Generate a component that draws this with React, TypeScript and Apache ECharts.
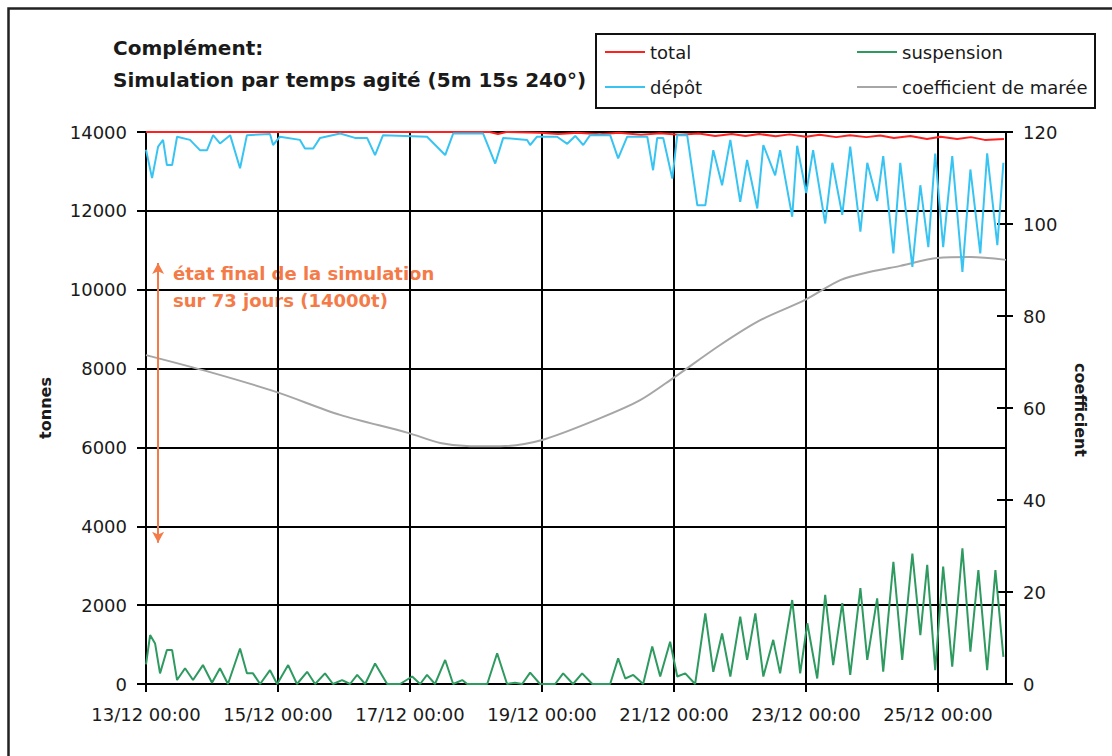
import React, { useEffect, useRef } from "react";
import * as echarts from "echarts";

// x positions are hours elapsed since 13/12 00:00
const xTickLabels = [
  "13/12 00:00",
  "15/12 00:00",
  "17/12 00:00",
  "19/12 00:00",
  "21/12 00:00",
  "23/12 00:00",
  "25/12 00:00",
];

const depotHours = [
  0, 2.2, 4.4, 6.2, 7.6, 9.5, 11.3, 16.0, 19.6, 22.2, 24.4, 26.9, 30.6, 34.2, 36.7,
  45.1, 46.2, 48.7, 56.0, 57.8, 60.8, 63.3, 70.6, 76.0, 80.4, 83.3, 86.2, 102.2,
  108.8, 111.7, 122.6, 127.0, 129.9, 138.6, 139.7, 142.2, 149.5, 153.2, 156.1,
  159.0, 161.5, 168.8, 171.7, 175.0, 182.3, 184.4, 185.9, 188.1, 191.4, 193.2,
  196.8, 200.5, 203.4, 206.3, 209.5, 212.5, 216.1, 218.6, 222.3, 224.5, 228.8,
  230.6, 235.0, 236.8, 240.1, 242.6, 247.0, 249.6, 253.2, 256.1, 259.8, 262.3,
  265.9, 268.1, 271.8, 274.3, 278.7, 281.6, 284.5, 287.0, 289.9, 293.2, 296.9,
  299.8, 303.4, 305.9, 309.6, 311.8,
];
const depotValues = [
  13550, 12830, 13630, 13800, 13160, 13160, 13880, 13800, 13540, 13540, 13920, 13710,
  13920, 13080, 13920, 13950, 13670, 13880, 13800, 13580, 13580, 13850, 13960, 13850,
  13850, 13415, 13920, 13880, 13415, 13960, 13960, 13200, 13850, 13800, 13670, 13880,
  13880, 13700, 13900, 13670, 13920, 13920, 13330, 13880, 13880, 13030, 13850, 13850,
  12820, 13920, 13920, 12140, 12140, 13540, 12650, 13800, 12230, 13290, 12060, 13670,
  12900, 13540, 11850, 13650, 12450, 13540, 11680, 13220, 11900, 13630, 11470, 13220,
  12250, 13390, 10920, 13220, 10580, 12650, 11080, 13450, 11080, 13390, 10450, 13050,
  10920, 13460, 11130, 13220,
];

const totalHours = [
  0, 125, 128, 131, 143, 150, 157, 165, 172, 180, 187, 194, 201, 207, 213, 218, 223,
  229, 234, 240, 245, 251, 256, 262, 267, 272, 278, 284, 289, 295, 300, 305, 312,
];
const totalValues = [
  14000, 14000, 13950, 14000, 13980, 13950, 13980, 13940, 13980, 13930, 13970, 13930,
  13960, 13900, 13950, 13900, 13950, 13890, 13940, 13880, 13930, 13870, 13920, 13870,
  13910, 13850, 13900, 13820, 13880, 13820, 13870, 13800, 13820,
];

const suspensionHours = [
  0, 1.5, 3.3, 5.1, 7.6, 9.5, 11.3, 14.2, 17.1, 20.7, 24.0, 26.9, 29.8, 34.2, 36.7,
  38.9, 41.5, 45.1, 47.7, 51.7, 54.9, 58.6, 61.5, 65.1, 68.0, 71.3, 74.2, 76.8, 79.7,
  83.3, 87.7, 92.4, 96.8, 99.7, 102.2, 105.1, 108.8, 111.7, 115.0, 116.8, 124.1,
  127.7, 131.3, 134.2, 136.8, 139.7, 143.3, 148.8, 151.7, 155.3, 158.6, 162.3, 168.8,
  171.7, 174.3, 177.2, 180.8, 184.1, 187.0, 190.6, 193.2, 196.1, 199.7, 203.4, 206.3,
  209.5, 212.5, 216.1, 218.6, 221.6, 224.5, 228.1, 230.6, 235.0, 237.9, 240.5, 244.1,
  247.0, 249.9, 253.2, 256.1, 259.8, 262.3, 265.9, 268.1, 271.8, 275.0, 278.7, 281.6,
  284.1, 287.0, 289.9, 293.2, 296.9, 299.8, 302.7, 305.9, 308.9, 311.8,
];
const suspensionValues = [
  500, 1240, 1030, 270, 860, 860, 100, 400, 100, 480, 30, 400, 0, 900, 270, 270, 0, 350,
  0, 480, 0, 310, 0, 270, 0, 100, 0, 230, 0, 520, 0, 0, 190, 0, 230, 0, 610, 0, 100, 0,
  0, 780, 0, 30, 0, 290, 0, 0, 270, 0, 270, 0, 0, 650, 140, 230, 0, 950, 190, 1070, 190,
  270, 0, 1790, 310, 1280, 190, 1710, 610, 1790, 190, 1120, 270, 2130, 270, 1540, 140,
  2260, 480, 2050, 230, 2430, 610, 2170, 310, 3100, 610, 3310, 1240, 3020, 350, 2980,
  440, 3440, 820, 2890, 350, 2890, 690,
];

const coefHours = [
  0, 23.3, 47.3, 70.6, 95.3, 107.0, 117.9, 128.8, 143.7, 165.2, 179.7, 191.7, 208.8,
  223.4, 239.7, 252.5, 263.4, 274.3, 287.8, 299.8, 312.75,
];
const coefValues = [
  71.5, 67.8, 63.5, 58.5, 54.6, 52.4, 51.7, 51.7, 53.0, 57.8, 61.7, 66.5, 73.7, 79.1,
  83.5, 87.8, 89.6, 90.9, 92.6, 92.8, 92.2,
];

// annotation arrow: hour position and the two tonne values it spans
const arrowHour = [4.4];
const arrowSpan = [10680, 3580];

const pairs = (hs: number[], vs: number[]) => hs.map((h, i) => [h, vs[i]]);

const FONT = "DejaVu Sans";
const INK = "#1a1a1a";
const ORANGE = "#f47a48";

export default function App() {
  const ref = useRef<HTMLDivElement>(null);

  useEffect(() => {
    document.body.style.margin = "0";
    const chart = echarts.init(ref.current!, null, { renderer: "svg" });

    const legendCommon = {
      orient: "horizontal",
      icon: "rect",
      itemWidth: 40,
      itemHeight: 2,
      padding: 0,
      selectedMode: false,
      textStyle: { fontSize: 18, color: INK, fontFamily: FONT, lineHeight: 20 },
    };

    const plain = (v: number) => String(v);

    const option: any = {
      animation: false,
      backgroundColor: "#ffffff",
      textStyle: { fontFamily: FONT },
      grid: { left: 146, right: 106, top: 132, bottom: 72, containLabel: false },
      legend: [
        { ...legendCommon, data: ["total"], left: 605, top: 42 },
        { ...legendCommon, data: ["dépôt"], left: 605, top: 77 },
        { ...legendCommon, data: ["suspension"], left: 857, top: 42 },
        { ...legendCommon, data: ["coefficient de marée"], left: 857, top: 77 },
      ],
      xAxis: {
        type: "value",
        min: 0,
        max: 312.75,
        interval: 48,
        axisLine: { show: true, lineStyle: { color: "#000", width: 2 } },
        axisTick: { show: true, inside: false, length: 8, lineStyle: { color: "#000", width: 2 } },
        axisLabel: {
          show: true,
          margin: 21,
          fontSize: 18,
          color: INK,
          fontFamily: FONT,
          showMaxLabel: false,
          formatter: (v: number) => xTickLabels[Math.round(v / 48)] ?? "",
        },
        splitLine: { show: true, lineStyle: { color: "#000", width: 2 } },
      },
      yAxis: [
        {
          type: "value",
          position: "left",
          min: 0,
          max: 14000,
          interval: 2000,
          axisLine: { show: true, lineStyle: { color: "#000", width: 2 } },
          axisTick: { show: true, inside: false, length: 9, lineStyle: { color: "#000", width: 2 } },
          axisLabel: { margin: 19, fontSize: 18, color: INK, fontFamily: FONT, formatter: plain },
          splitLine: { show: true, lineStyle: { color: "#000", width: 2 } },
        },
        {
          type: "value",
          position: "right",
          min: 0,
          max: 120,
          interval: 20,
          axisLine: { show: true, lineStyle: { color: "#000", width: 2 } },
          axisTick: { show: true, inside: false, length: 7, lineStyle: { color: "#000", width: 2 } },
          axisLabel: { margin: 17, fontSize: 18, color: INK, fontFamily: FONT, formatter: plain },
          splitLine: { show: false },
        },
        {
          type: "value",
          position: "right",
          min: 0,
          max: 120,
          interval: 20,
          axisLine: { show: false },
          axisTick: { show: true, inside: true, length: 9, lineStyle: { color: "#000", width: 2 } },
          axisLabel: { show: false },
          splitLine: { show: false },
        },
      ],
      series: [
        {
          name: "coefficient de marée",
          type: "line",
          yAxisIndex: 1,
          data: pairs(coefHours, coefValues),
          showSymbol: false,
          smooth: 0.3,
          lineStyle: { color: "#a6a6a6", width: 2 },
          itemStyle: { color: "#a6a6a6" },
          z: 2,
        },
        {
          name: "total",
          type: "line",
          yAxisIndex: 0,
          data: pairs(totalHours, totalValues),
          showSymbol: false,
          lineStyle: { color: "#ff2020", width: 2 },
          itemStyle: { color: "#ff2020" },
          z: 3,
        },
        {
          name: "dépôt",
          type: "line",
          yAxisIndex: 0,
          data: pairs(depotHours, depotValues),
          showSymbol: false,
          lineStyle: { color: "#38c4f2", width: 2 },
          itemStyle: { color: "#38c4f2" },
          z: 4,
          markLine: {
            silent: true,
            symbol: ["arrow", "arrow"],
            symbolSize: [9, 11],
            label: { show: false },
            lineStyle: { color: ORANGE, width: 2, type: "solid" },
            data: [[{ coord: [arrowHour[0], arrowSpan[0]] }, { coord: [arrowHour[0], arrowSpan[1]] }]],
          },
        },
        {
          name: "suspension",
          type: "line",
          yAxisIndex: 0,
          data: pairs(suspensionHours, suspensionValues),
          showSymbol: false,
          lineStyle: { color: "#2e9a60", width: 2 },
          itemStyle: { color: "#2e9a60" },
          z: 5,
        },
      ],
      graphic: [
        {
          type: "rect",
          shape: { x: 8.5, y: 8.5, width: 1200, height: 900 },
          style: { fill: "none", stroke: "#222", lineWidth: 2.5 },
          silent: true,
        },
        {
          type: "rect",
          shape: { x: 596, y: 34, width: 499, height: 74 },
          style: { fill: "none", stroke: "#111", lineWidth: 2 },
          silent: true,
        },
        {
          type: "text",
          x: 113,
          y: 48,
          style: {
            text: "Complément:",
            fontFamily: FONT,
            fontSize: 20,
            fontWeight: "bold",
            fill: INK,
            align: "left",
            verticalAlign: "middle",
          },
        },
        {
          type: "text",
          x: 113,
          y: 80,
          style: {
            text: "Simulation par temps agité (5m 15s 240°)",
            fontFamily: FONT,
            fontSize: 20,
            fontWeight: "bold",
            fill: INK,
            align: "left",
            verticalAlign: "middle",
          },
        },
        {
          type: "text",
          x: 173,
          y: 273,
          style: {
            text: "état final de la simulation",
            fontFamily: FONT,
            fontSize: 18,
            fontWeight: "bold",
            fill: ORANGE,
            align: "left",
            verticalAlign: "middle",
          },
        },
        {
          type: "text",
          x: 173,
          y: 300,
          style: {
            text: "sur 73 jours (14000t)",
            fontFamily: FONT,
            fontSize: 18,
            fontWeight: "bold",
            fill: ORANGE,
            align: "left",
            verticalAlign: "middle",
          },
        },
        {
          type: "text",
          x: 45,
          y: 408,
          rotation: Math.PI / 2,
          style: {
            text: "tonnes",
            fontFamily: FONT,
            fontSize: 16,
            fontWeight: "bold",
            fill: INK,
            align: "center",
            verticalAlign: "middle",
          },
        },
        {
          type: "text",
          x: 1080,
          y: 410,
          rotation: -Math.PI / 2,
          style: {
            text: "coefficient",
            fontFamily: FONT,
            fontSize: 16,
            fontWeight: "bold",
            fill: INK,
            align: "center",
            verticalAlign: "middle",
          },
        },
      ],
    };

    chart.setOption(option);
    return () => chart.dispose();
  }, []);

  return <div ref={ref} style={{ width: 1112, height: 756, background: "#fff" }} />;
}
